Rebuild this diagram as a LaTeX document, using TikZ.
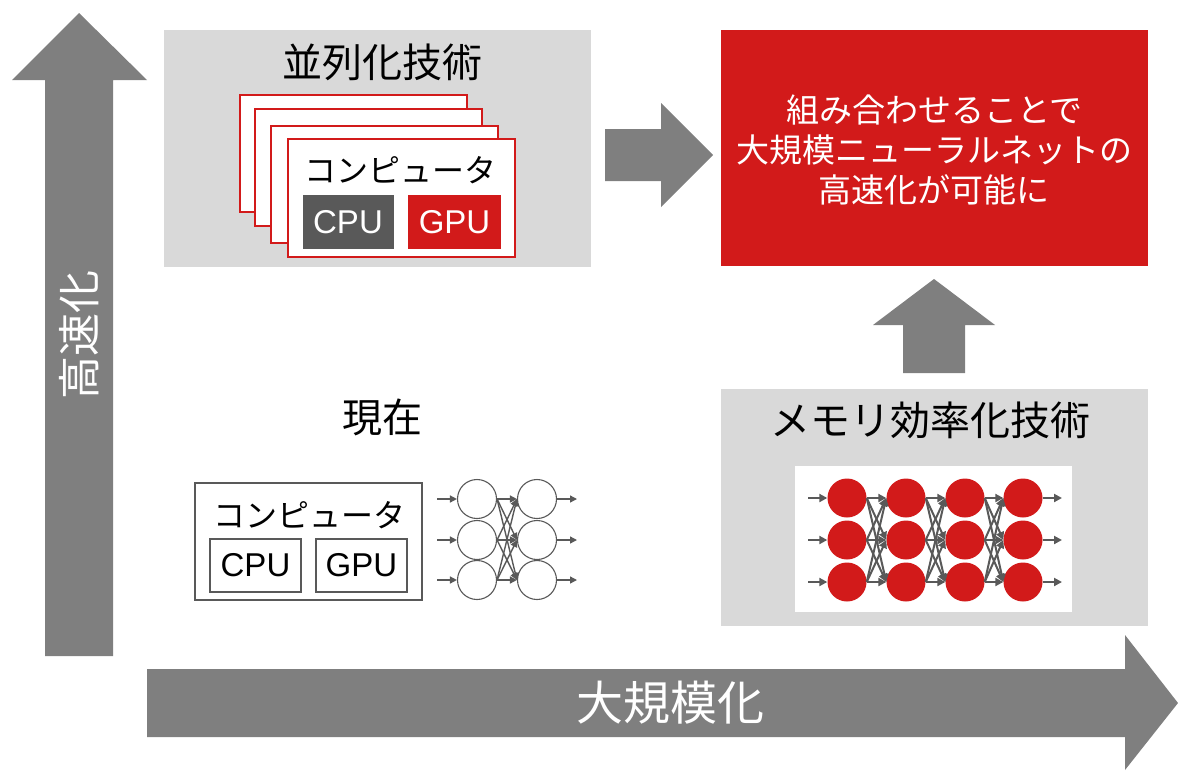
\documentclass[tikz,border=0pt]{standalone}
\usepackage{fontspec}
\setmainfont{Liberation Sans}
\newfontfamily\jp{Noto Sans CJK JP}
\usetikzlibrary{arrows.meta}
\definecolor{agray}{HTML}{7F7F7F}
\definecolor{lgray}{HTML}{D9D9D9}
\definecolor{dred}{HTML}{D21A1A}
\definecolor{dgray}{HTML}{595959}
\newcommand{\fs}[1]{\fontsize{#1pt}{1.2\dimexpr#1pt\relax}\selectfont}
\begin{document}
\begin{tikzpicture}[x=1pt,y=-1pt,
  panel/.style={fill=lgray,draw=none,inner sep=0pt},
  card/.style={fill=white,draw=dred,line width=1.5pt,minimum width=227pt,minimum height=117pt,inner sep=0pt},
  chipfill/.style={draw=none,inner sep=0pt,minimum width=91pt,minimum height=54pt,text=white,font=\fs{33}},
  chipline/.style={fill=white,draw=dgray,line width=1.3pt,inner sep=0pt,minimum width=91pt,minimum height=53pt,font=\fs{33}},
  bigarrow/.style={fill=agray,draw=none},
  redneuron/.style={circle,fill=dred,draw=none,minimum size=39pt,inner sep=0pt},
  whiteneuron/.style={circle,fill=white,draw=dgray,line width=1.1pt,minimum size=39pt,inner sep=0pt},
  link/.style={draw=dgray,line width=2pt,-{Triangle[length=8pt,width=8pt]}},
  thinlink/.style={draw=dgray,line width=1.4pt,-{Triangle[length=7pt,width=7pt]}},
  title/.style={font=\jp\fs{40},text=black,inner sep=0pt}
]
\useasboundingbox (0,0) rectangle (1178,771);

% big arrows
\fill[bigarrow] (45,656) -- (45,80) -- (12,80) -- (79,13) -- (147,80) -- (113,80) -- (113,656) -- cycle;
\node[rotate=90,text=white,font=\jp\fs{43},inner sep=0pt] (speed) at (79,335) {高速化};
\fill[bigarrow] (147,669) -- (1125,669) -- (1125,635) -- (1178,703) -- (1125,770) -- (1125,737) -- (147,737) -- cycle;
\node[text=white,font=\jp\fs{47},inner sep=0pt] (scale) at (670,703) {大規模化};

% parallel panel
\node[panel,minimum width=427pt,minimum height=237pt] (par) at (377.5,148.5) {};
\node[title] (partitle) at (382,62) {並列化技術};
\node[card] (c1) at (353.5,153.5) {};
\node[card] (c2) at (368.5,167.5) {};
\node[card] (c3) at (384.5,184.5) {};
\node[card,minimum height=118pt] (c4) at (401.5,198) {};
\node[font=\jp\fs{32},inner sep=0pt] (comp1) at (400,170) {コンピュータ};
\node[chipfill,fill=dgray] (cpu1) at (348,222) {CPU};
\node[chipfill,fill=dred,minimum width=93pt] (gpu1) at (454.5,222) {GPU};

% arrow to result
\fill[bigarrow] (605,129) -- (661,129) -- (661,103) -- (713,155) -- (661,207) -- (661,181) -- (605,181) -- cycle;

% result box
\node[fill=dred,draw=none,minimum width=427pt,minimum height=236pt,inner sep=0pt] (res) at (934.5,148) {};
\node[text=white,font=\jp\fs{33},align=center,inner sep=0pt] (restext) at (934,150)
  {\fontsize{33pt}{47pt}\selectfont 組み合わせることで\\大規模ニューラルネットの\\高速化が可能に};

% up arrow
\fill[bigarrow] (903,373) -- (903,325) -- (873,325) -- (934,279) -- (995,325) -- (965,325) -- (965,373) -- cycle;

% memory panel
\node[panel,minimum width=427pt,minimum height=237pt] (mem) at (934.5,507.5) {};
\node[title] (memtitle) at (930,420) {メモリ効率化技術};
\node[fill=white,draw=none,minimum width=277pt,minimum height=146pt,inner sep=0pt] (memnet) at (933.5,539) {};
\foreach \r/\y in {1/498,2/540,3/582}{
  \coordinate (min\r) at (808,\y);
  \coordinate (mout\r) at (1062,\y);
}
\foreach \c/\x in {1/847,2/906,3/965,4/1023}{
  \foreach \r/\y in {1/498,2/540,3/582}{
    \node[redneuron] (m\c\r) at (\x,\y) {};
  }
}
\foreach \a/\b in {1/2,2/3,3/4}{
  \foreach \r in {1,2,3}{
    \foreach \s in {1,2,3}{
      \draw[link] (m\a\r.east) -- (m\b\s.west);
    }
  }
}
\foreach \r in {1,2,3}{
  \draw[link] (min\r) -- (m1\r);
  \draw[link] (m4\r) -- (mout\r);
}

% current
\node[font=\jp\fs{40},inner sep=0pt] (now) at (382,417) {現在};
\node[fill=white,draw=dgray,line width=1.3pt,minimum width=227pt,minimum height=117pt,inner sep=0pt] (comp0box) at (308.5,541.5) {};
\node[font=\jp\fs{32},inner sep=0pt] (comp0) at (309,515) {コンピュータ};
\node[chipline] (cpu0) at (255.5,565.5) {CPU};
\node[chipline] (gpu0) at (361.5,565.5) {GPU};

\foreach \c/\x in {1/477,2/537}{
  \foreach \r/\y in {1/499,2/540,3/580}{
    \node[whiteneuron] (n\c\r) at (\x,\y) {};
  }
}
\foreach \r/\y in {1/499,2/540,3/580}{
  \coordinate (nin\r) at (437,\y);
  \coordinate (nout\r) at (577,\y);
  \draw[thinlink] (nin\r) -- (n1\r);
  \draw[thinlink] (n2\r) -- (nout\r);
}
\foreach \r in {1,2,3}{
  \foreach \s in {1,2,3}{
    \draw[thinlink] (n1\r.east) -- (n2\s.west);
  }
}
\end{tikzpicture}
\end{document}
